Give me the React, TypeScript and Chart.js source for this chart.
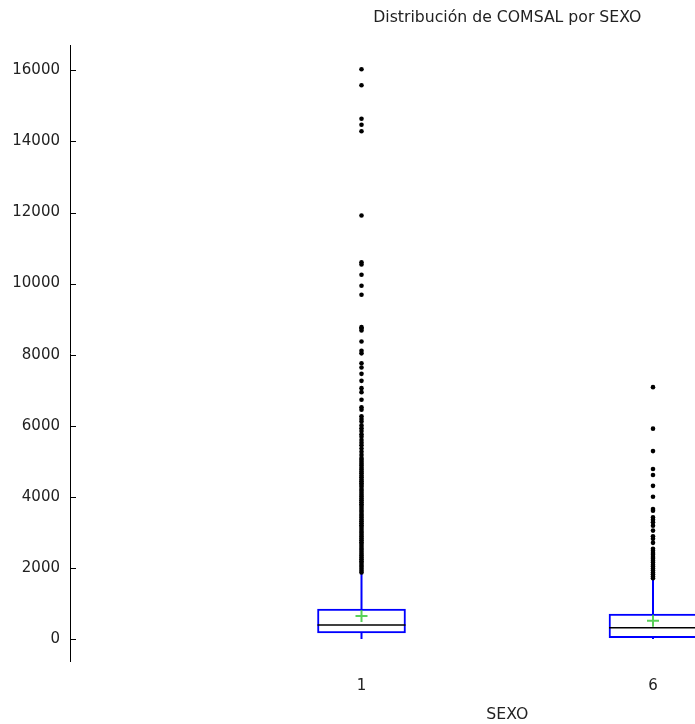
import React, { useEffect, useRef } from 'react';
import { Chart, registerables } from 'chart.js';

Chart.register(...registerables);

const chartTitle = 'Distribución de COMSAL por SEXO';
const xAxisTitle = 'SEXO';
const categories = [1, 6];
const q1Values = [168, 40];
const medianValues = [392, 316];
const q3Values = [839, 699];
const meanValues = [643, 512];
const whiskerLowValues = [0, 0];
const whiskerHighValues = [1845, 1680];
const outliersSexo1 = [
  16030, 15580, 14640, 14470, 14285, 11916, 10600, 10537, 10247, 9939, 9688,
  8775, 8737, 8680, 8372, 8112, 8037, 7757, 7637, 7460, 7264, 7058, 6946, 6733,
  6518, 6453, 6266, 6190, 6120, 6010, 5930, 5850, 5760, 5690, 5600, 5520, 5450,
  5360, 5270, 5180, 5090, 5040, 4985, 4930, 4880, 4820, 4770, 4710, 4660, 4600,
  4550, 4490, 4440, 4385, 4330, 4280, 4220, 4170, 4115, 4060, 4010, 3950, 3900,
  3845, 3790, 3740, 3685, 3630, 3580, 3520, 3470, 3415, 3360, 3310, 3255, 3200,
  3150, 3095, 3040, 2990, 2935, 2880, 2830, 2775, 2720, 2670, 2615, 2560, 2510,
  2455, 2400, 2350, 2295, 2240, 2190, 2135, 2080, 2030, 1975, 1920, 1870,
];
const outliersSexo6 = [
  7086, 5918, 5287, 4783, 4615, 4308, 4000, 3656, 3608, 3421, 3357, 3281, 3189,
  3049, 2889, 2817, 2705, 2537, 2480, 2420, 2370, 2310, 2260, 2200, 2150, 2090,
  2040, 1980, 1930, 1870, 1820, 1760, 1710,
];
const yTickValues = [0, 2000, 4000, 6000, 8000, 10000, 12000, 14000, 16000];
const xMin = -4;
const xMax = 11;
const yMin = -620;
const yMax = 16700;

const BLUE = '#0000ff';
const TEXT = '#222222';

const innerTicks = {
  id: 'innerTicks',
  afterDatasetsDraw(chart: any) {
    const ys = chart.scales.y;
    const ctx = chart.ctx;
    const left = chart.chartArea.left;
    ctx.save();
    ctx.strokeStyle = '#000';
    ctx.lineWidth = 1;
    ys.ticks.forEach((t: any) => {
      const py = Math.round(ys.getPixelForValue(t.value)) + 0.5;
      ctx.beginPath();
      ctx.moveTo(left, py);
      ctx.lineTo(left + 6, py);
      ctx.stroke();
    });
    ctx.restore();
  },
};

export default function App() {
  const ref = useRef<HTMLCanvasElement | null>(null);

  useEffect(() => {
    if (!ref.current) return;
    Chart.defaults.font.family = "'DejaVu Sans', Verdana, sans-serif";
    const outlierSets = [outliersSexo1, outliersSexo6];
    const datasets: any[] = [];

    categories.forEach((c, i) => {
      datasets.push({
        type: 'line',
        data: [
          { x: c, y: whiskerLowValues[i] },
          { x: c, y: whiskerHighValues[i] },
        ],
        borderColor: BLUE,
        borderWidth: 2,
        pointRadius: 0,
        order: 5,
      });
    });

    datasets.push({
      type: 'bar',
      data: categories.map((c, i) => ({ x: c, y: [q1Values[i], q3Values[i]] })),
      backgroundColor: '#ffffff',
      borderColor: BLUE,
      borderWidth: 2,
      borderSkipped: false,
      barThickness: 88,
      order: 3,
    });

    categories.forEach((c, i) => {
      datasets.push({
        type: 'scatter',
        data: outlierSets[i].map((v) => ({ x: c, y: v })),
        pointRadius: 2.3,
        pointBackgroundColor: '#000',
        pointBorderColor: '#000',
        pointBorderWidth: 0,
        order: 4,
      });
    });

    datasets.push({
      type: 'scatter',
      data: categories.map((c, i) => ({ x: c, y: medianValues[i] })),
      pointStyle: 'line',
      pointRadius: 44,
      pointBorderColor: '#000',
      borderColor: '#000',
      pointBorderWidth: 1.5,
      order: 2,
    });

    datasets.push({
      type: 'scatter',
      data: categories.map((c, i) => ({ x: c, y: meanValues[i] })),
      pointStyle: 'cross',
      pointRadius: 6,
      pointBorderColor: 'rgba(60,200,60,0.85)',
      borderColor: 'rgba(60,200,60,0.85)',
      pointBorderWidth: 2,
      order: 1,
    });

    const chart = new Chart(ref.current, {
      type: 'bar',
      data: { datasets },
      plugins: [innerTicks],
      options: {
        animation: false,
        responsive: true,
        maintainAspectRatio: false,
        events: [],
        layout: { padding: { left: 0, right: 55.5, top: 0, bottom: 0 } },
        plugins: {
          legend: { display: false },
          tooltip: { enabled: false },
          title: {
            display: true,
            text: chartTitle,
            fullSize: false,
            color: TEXT,
            font: { size: 15.7, weight: 'normal' },
            padding: { top: 5, bottom: 18 },
          },
        },
        scales: {
          x: {
            type: 'linear',
            min: xMin,
            max: xMax,
            offset: false,
            afterBuildTicks: (scale: any) => {
              scale.ticks = categories.map((v) => ({ value: v }));
            },
            afterFit: (scale: any) => {
              scale.height = 63;
            },
            grid: { display: false, offset: false },
            border: { display: false },
            ticks: {
              color: TEXT,
              font: { size: 15 },
              padding: 8,
              callback: (v: any) => String(v),
            },
            title: {
              display: true,
              text: xAxisTitle,
              color: TEXT,
              font: { size: 15.7 },
              padding: { top: 11, bottom: 0 },
            },
          },
          y: {
            type: 'linear',
            min: yMin,
            max: yMax,
            afterBuildTicks: (scale: any) => {
              scale.ticks = yTickValues.map((v) => ({ value: v }));
            },
            afterFit: (scale: any) => {
              scale.width = 70;
            },
            grid: { display: true, drawOnChartArea: false, drawTicks: false },
            border: { display: true, color: '#000', width: 1 },
            ticks: {
              color: TEXT,
              font: { size: 15 },
              padding: 10,
              callback: (v: any) => String(v),
            },
          },
        },
      } as any,
    });
    return () => chart.destroy();
  }, []);

  return (
    <div
      style={{
        position: 'fixed',
        left: 0,
        top: 0,
        width: '100vw',
        height: '100vh',
        overflow: 'hidden',
        background: '#fff',
      }}
    >
      <div style={{ position: 'absolute', left: 0, top: 0, width: 1000, height: 724 }}>
        <canvas ref={ref} />
      </div>
    </div>
  );
}
